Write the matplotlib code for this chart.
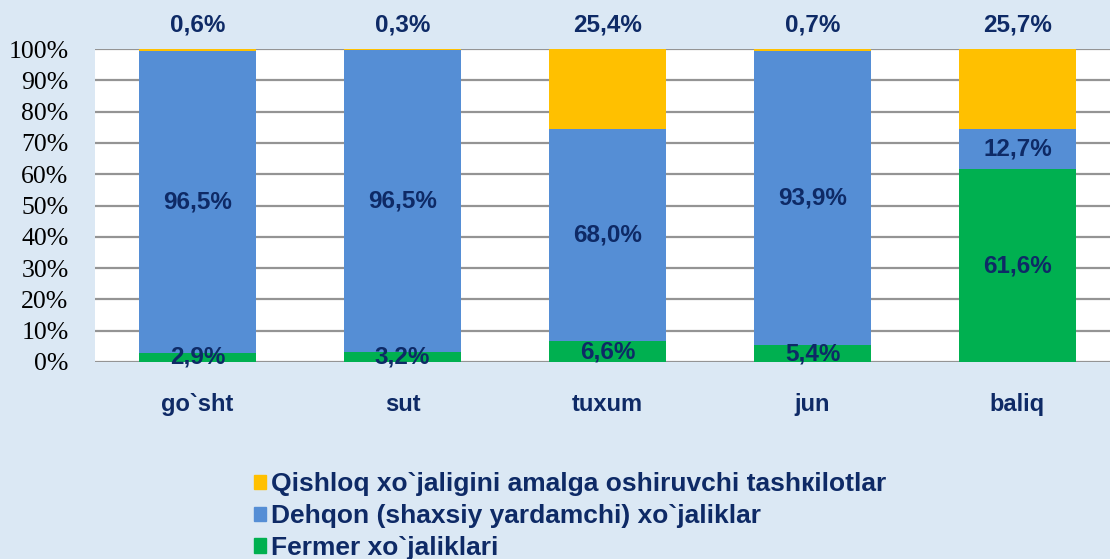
import matplotlib.pyplot as plt
import numpy as np
from matplotlib.patches import Patch

categories = ["go`sht", "sut", "tuxum", "jun", "baliq"]
fermer = [2.9, 3.2, 6.6, 5.4, 61.6]
dehqon = [96.5, 96.5, 68.0, 93.9, 12.7]
qishloq = [0.6, 0.3, 25.4, 0.7, 25.7]
yticks = list(range(0, 101, 10))

series_names = ["Qishloq xo`jaligini amalga oshiruvchi tashкilotlar",
                "Dehqon (shaxsiy yardamchi) xo`jaliklar",
                "Fermer xo`jaliklari"]

c_green = "#00B050"
c_blue = "#558ED5"
c_yellow = "#FFC000"
navy = "#0E2a66"

def fmt(v):
    return f"{v:.1f}%".replace(".", ",")

fig = plt.figure(figsize=(11.1, 5.59), dpi=100)
fig.patch.set_facecolor("#dbe8f4")
ax = fig.add_axes([95 / 1110, 1 - 362 / 559, 1015 / 1110, 313 / 559])
ax.set_facecolor("white")

x = np.arange(len(categories))
w = 0.57
g = np.array(fermer)
b = np.array(dehqon)
q = np.array(qishloq)
ax.bar(x, g, w, color=c_green, zorder=3)
ax.bar(x, b, w, bottom=g, color=c_blue, zorder=3)
ax.bar(x, q, w, bottom=g + b, color=c_yellow, zorder=3)

lab = dict(color=navy, fontsize=17.5, fontweight="bold", ha="center",
           va="center", family="Liberation Sans", zorder=5, clip_on=False)
for i in range(len(categories)):
    ax.text(x[i], g[i] / 2, fmt(g[i]), **lab)
    ax.text(x[i], g[i] + b[i] / 2, fmt(b[i]), **lab)
    ax.text(x[i], 107.8, fmt(q[i]), **lab)

ax.set_xlim(-0.5, -0.5 + 1015 / 205)
ax.set_ylim(0, 100)
ax.set_yticks(yticks)
ax.set_yticklabels([f"{t}%" for t in yticks], family="Liberation Serif", fontsize=18.5)
ax.tick_params(axis="y", length=0, pad=19)
ax.set_xticks(x)
ax.set_xticklabels(categories, color=navy, fontsize=17, fontweight="bold",
                   family="Liberation Sans")
ax.tick_params(axis="x", length=0, pad=22)
ax.yaxis.grid(True, color="#949494", linewidth=1.6, zorder=1)
ax.set_axisbelow(True)
for s in ax.spines.values():
    s.set_visible(False)

handles = [Patch(color=c_yellow), Patch(color=c_blue), Patch(color=c_green)]
leg = fig.legend(handles, series_names, loc="center left",
                 bbox_to_anchor=(241 / 1110, 1 - 516 / 559), frameon=False,
                 prop=dict(family="Liberation Sans", weight="bold", size=19),
                 handlelength=0.45, handleheight=0.45, handletextpad=0.2,
                 labelspacing=0.3, borderpad=0)
for t in leg.get_texts():
    t.set_color(navy)

fig.savefig("out.png", dpi=100, facecolor=fig.get_facecolor())
